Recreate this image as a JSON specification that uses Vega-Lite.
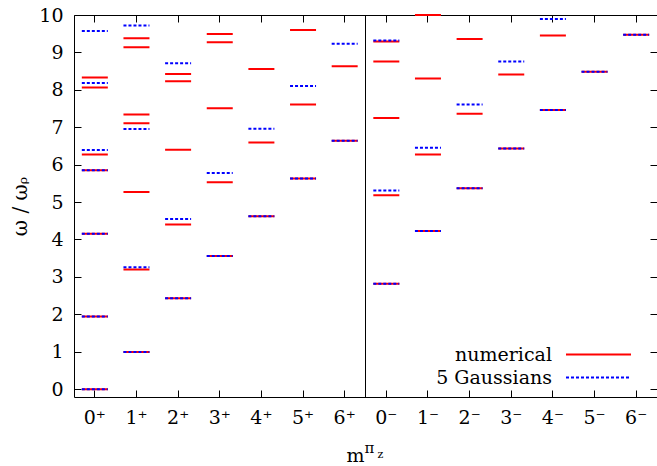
{
  "$schema": "https://vega.github.io/schema/vega-lite/v6.json",
  "width": 583,
  "height": 382,
  "autosize": {"type": "none"},
  "padding": {"left": 74, "top": 15, "right": 0, "bottom": 69},
  "background": "white",
  "config": {
    "view": {"stroke": "black", "strokeWidth": 1},
    "font": "DejaVu Serif",
    "axis": {
      "labelColor": "black",
      "titleColor": "black",
      "tickColor": "black",
      "labelFont": "DejaVu Serif",
      "titleFont": "DejaVu Serif",
      "titleFontWeight": "normal",
      "grid": false,
      "domain": false,
      "tickSize": -7,
      "tickWidth": 1
    },
    "legend": {
      "labelFont": "DejaVu Serif"
    }
  },
  "datasets": {
    "levels": [
      {"m": "0⁺", "series": "numerical", "value": 0.0},
      {"m": "0⁺", "series": "numerical", "value": 1.94},
      {"m": "0⁺", "series": "numerical", "value": 4.15},
      {"m": "0⁺", "series": "numerical", "value": 5.85},
      {"m": "0⁺", "series": "numerical", "value": 6.27},
      {"m": "0⁺", "series": "numerical", "value": 8.06},
      {"m": "0⁺", "series": "numerical", "value": 8.33},
      {"m": "1⁺", "series": "numerical", "value": 0.99},
      {"m": "1⁺", "series": "numerical", "value": 3.2},
      {"m": "1⁺", "series": "numerical", "value": 5.27},
      {"m": "1⁺", "series": "numerical", "value": 7.11},
      {"m": "1⁺", "series": "numerical", "value": 7.34},
      {"m": "1⁺", "series": "numerical", "value": 9.14},
      {"m": "1⁺", "series": "numerical", "value": 9.38},
      {"m": "2⁺", "series": "numerical", "value": 2.43},
      {"m": "2⁺", "series": "numerical", "value": 4.4},
      {"m": "2⁺", "series": "numerical", "value": 6.4},
      {"m": "2⁺", "series": "numerical", "value": 8.23},
      {"m": "2⁺", "series": "numerical", "value": 8.42},
      {"m": "3⁺", "series": "numerical", "value": 3.56},
      {"m": "3⁺", "series": "numerical", "value": 5.53},
      {"m": "3⁺", "series": "numerical", "value": 7.51},
      {"m": "3⁺", "series": "numerical", "value": 9.27},
      {"m": "3⁺", "series": "numerical", "value": 9.49},
      {"m": "4⁺", "series": "numerical", "value": 4.62},
      {"m": "4⁺", "series": "numerical", "value": 6.59},
      {"m": "4⁺", "series": "numerical", "value": 8.56},
      {"m": "5⁺", "series": "numerical", "value": 5.63},
      {"m": "5⁺", "series": "numerical", "value": 7.61},
      {"m": "5⁺", "series": "numerical", "value": 9.6},
      {"m": "6⁺", "series": "numerical", "value": 6.64},
      {"m": "6⁺", "series": "numerical", "value": 8.63},
      {"m": "0⁻", "series": "numerical", "value": 2.82},
      {"m": "0⁻", "series": "numerical", "value": 5.18},
      {"m": "0⁻", "series": "numerical", "value": 7.25},
      {"m": "0⁻", "series": "numerical", "value": 8.76},
      {"m": "0⁻", "series": "numerical", "value": 9.29},
      {"m": "1⁻", "series": "numerical", "value": 4.23},
      {"m": "1⁻", "series": "numerical", "value": 6.27},
      {"m": "1⁻", "series": "numerical", "value": 8.3},
      {"m": "1⁻", "series": "numerical", "value": 10.0},
      {"m": "2⁻", "series": "numerical", "value": 5.37},
      {"m": "2⁻", "series": "numerical", "value": 7.36},
      {"m": "2⁻", "series": "numerical", "value": 9.36},
      {"m": "3⁻", "series": "numerical", "value": 6.43},
      {"m": "3⁻", "series": "numerical", "value": 8.41},
      {"m": "4⁻", "series": "numerical", "value": 7.46},
      {"m": "4⁻", "series": "numerical", "value": 9.45},
      {"m": "5⁻", "series": "numerical", "value": 8.48},
      {"m": "6⁻", "series": "numerical", "value": 9.47},
      {"m": "0⁺", "series": "5 Gaussians", "value": 0.0},
      {"m": "0⁺", "series": "5 Gaussians", "value": 1.94},
      {"m": "0⁺", "series": "5 Gaussians", "value": 4.15},
      {"m": "0⁺", "series": "5 Gaussians", "value": 5.85},
      {"m": "0⁺", "series": "5 Gaussians", "value": 6.39},
      {"m": "0⁺", "series": "5 Gaussians", "value": 8.18},
      {"m": "0⁺", "series": "5 Gaussians", "value": 9.57},
      {"m": "1⁺", "series": "5 Gaussians", "value": 0.99},
      {"m": "1⁺", "series": "5 Gaussians", "value": 3.26},
      {"m": "1⁺", "series": "5 Gaussians", "value": 6.95},
      {"m": "1⁺", "series": "5 Gaussians", "value": 9.72},
      {"m": "2⁺", "series": "5 Gaussians", "value": 2.43},
      {"m": "2⁺", "series": "5 Gaussians", "value": 4.55},
      {"m": "2⁺", "series": "5 Gaussians", "value": 8.71},
      {"m": "3⁺", "series": "5 Gaussians", "value": 3.56},
      {"m": "3⁺", "series": "5 Gaussians", "value": 5.78},
      {"m": "4⁺", "series": "5 Gaussians", "value": 4.62},
      {"m": "4⁺", "series": "5 Gaussians", "value": 6.96},
      {"m": "5⁺", "series": "5 Gaussians", "value": 5.63},
      {"m": "5⁺", "series": "5 Gaussians", "value": 8.1},
      {"m": "6⁺", "series": "5 Gaussians", "value": 6.64},
      {"m": "6⁺", "series": "5 Gaussians", "value": 9.23},
      {"m": "0⁻", "series": "5 Gaussians", "value": 2.82},
      {"m": "0⁻", "series": "5 Gaussians", "value": 5.31},
      {"m": "0⁻", "series": "5 Gaussians", "value": 9.32},
      {"m": "1⁻", "series": "5 Gaussians", "value": 4.23},
      {"m": "1⁻", "series": "5 Gaussians", "value": 6.45},
      {"m": "2⁻", "series": "5 Gaussians", "value": 5.37},
      {"m": "2⁻", "series": "5 Gaussians", "value": 7.61},
      {"m": "3⁻", "series": "5 Gaussians", "value": 6.43},
      {"m": "3⁻", "series": "5 Gaussians", "value": 8.76},
      {"m": "4⁻", "series": "5 Gaussians", "value": 7.46},
      {"m": "4⁻", "series": "5 Gaussians", "value": 9.89},
      {"m": "5⁻", "series": "5 Gaussians", "value": 8.48},
      {"m": "6⁻", "series": "5 Gaussians", "value": 9.47}
    ]
  },
  "resolve": {"axis": {"x": "independent", "y": "independent"}},
  "layer": [
    {
      "data": {"name": "levels"},
      "mark": {"type": "rule", "xOffset": -13, "x2Offset": 13, "strokeWidth": 2},
      "encoding": {
        "x": {
          "field": "m",
          "type": "nominal",
          "sort": null,
          "scale": {
            "type": "band",
            "domain": ["0⁺", "1⁺", "2⁺", "3⁺", "4⁺", "5⁺", "6⁺", "0⁻", "1⁻", "2⁻", "3⁻", "4⁻", "5⁻", "6⁻"],
            "paddingInner": 0,
            "paddingOuter": 0
          },
          "axis": {
            "orient": "bottom",
            "labelAngle": 0,
            "labelFontSize": 19,
            "labelPadding": 18,
            "title": "m",
            "titleFontSize": 19,
            "titleX": 281,
            "titleY": 64,
            "titleBaseline": "alphabetic",
            "titleAlign": "center"
          }
        },
        "x2": {"field": "m"},
        "y": {
          "field": "value",
          "type": "quantitative",
          "scale": {"domain": [-0.21, 10], "nice": false, "zero": false},
          "axis": {
            "orient": "left",
            "values": [0, 1, 2, 3, 4, 5, 6, 7, 8, 9, 10],
            "labelFontSize": 19,
            "labelPadding": 18,
            "title": "ω / ωᵨ",
            "titleFontSize": 20,
            "titlePadding": 8
          }
        },
        "color": {
          "field": "series",
          "type": "nominal",
          "scale": {"domain": ["numerical", "5 Gaussians"], "range": ["#ff0000", "#0000ff"]},
          "legend": {
            "orient": "none",
            "legendX": 515,
            "legendY": 330,
            "title": null,
            "symbolType": "M-5,0H5",
            "symbolSize": 169,
            "symbolStrokeWidth": 2,
            "rowPadding": 3,
            "labelAlign": "right",
            "labelOffset": -56,
            "labelFontSize": 19,
            "labelColor": "black",
            "labelLimit": 300,
            "padding": 0
          }
        },
        "strokeDash": {
          "field": "series",
          "type": "nominal",
          "scale": {"domain": ["numerical", "5 Gaussians"], "range": [[1, 0], [3, 2]]},
          "legend": {
            "orient": "none",
            "legendX": 515,
            "legendY": 330,
            "title": null,
            "symbolType": "M-5,0H5",
            "symbolSize": 169,
            "symbolStrokeWidth": 2,
            "rowPadding": 3,
            "labelAlign": "right",
            "labelOffset": -56,
            "labelFontSize": 19,
            "labelColor": "black",
            "labelLimit": 300,
            "padding": 0
          }
        }
      }
    },
    {
      "data": {"values": [{"m": "0⁻"}]},
      "mark": {"type": "rule", "color": "black", "strokeWidth": 1},
      "encoding": {
        "x": {"field": "m", "type": "nominal", "scale": {"type": "band"}, "bandPosition": 0, "axis": null}
      }
    },
    {
      "data": {"name": "levels"},
      "mark": {"type": "point", "opacity": 0},
      "encoding": {
        "x": {
          "field": "m",
          "type": "nominal",
          "scale": {"type": "band"},
          "axis": {
            "orient": "top",
            "labels": false,
            "title": "π",
            "titleFontSize": 15,
            "titleX": 295,
            "titleY": 437,
            "titleBaseline": "alphabetic",
            "titleAlign": "center"
          }
        },
        "y": {
          "field": "value",
          "type": "quantitative",
          "axis": {
            "orient": "right",
            "values": [0, 1, 2, 3, 4, 5, 6, 7, 8, 9, 10],
            "labels": false,
            "title": "z",
            "titleAngle": 0,
            "titleFontSize": 11,
            "titleX": -277,
            "titleY": 442,
            "titleBaseline": "alphabetic",
            "titleAlign": "center"
          }
        }
      }
    }
  ]
}
